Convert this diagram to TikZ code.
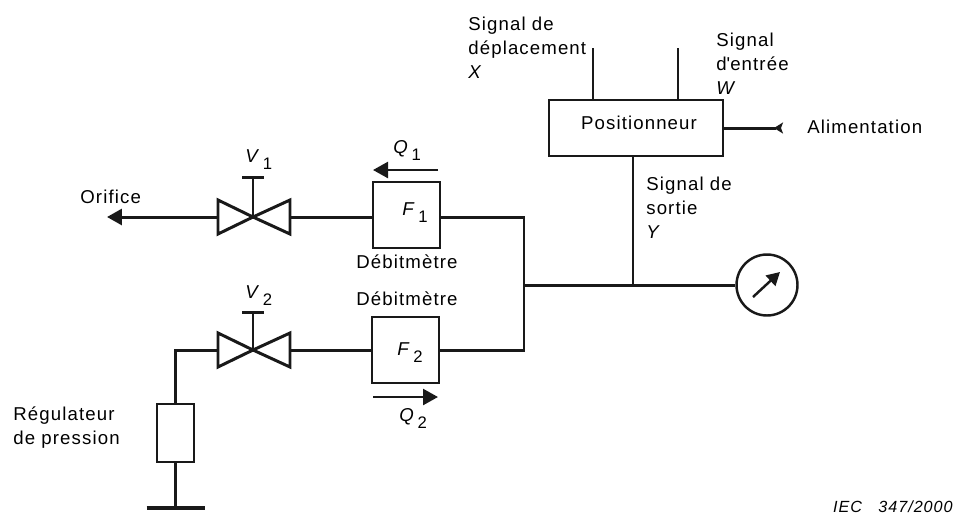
\documentclass[tikz,border=0pt]{standalone}
\usepackage{fontspec}
\setmainfont[LetterSpace=6]{Liberation Sans}
\usetikzlibrary{arrows.meta, positioning, calc}
\newcommand{\idx}[2]{\textit{#1}\hspace{1.5pt}\raisebox{-4pt}{\fontsize{9.5}{11}\selectfont #2}}

\begin{document}
\begin{tikzpicture}
  [
    x=0.02cm, y=-0.02cm,
    every node/.style={font=\fontsize{10.6}{13.6}\selectfont},
    Pipe/.style={line width=1.7pt, black!90},
    Box/.style={rectangle, draw=black!90, line width=1.6pt, inner sep=0pt},
    Flow/.style={line width=1.4pt, black!90, -{Triangle[length=3mm, width=3.2mm]}},
    Label/.style={align=left, anchor=west, inner sep=0pt},
    Mark/.style={anchor=base west, inner sep=0pt},
    Valve/.style={draw=black!90, line width=1.7pt, line join=miter}
  ]
  \useasboundingbox (0, 0) rectangle (954, 515);
  % Nodes
  \node[Box, minimum width=3.48cm, minimum height=1.12cm] (pos) at(636, 128) {};
  \node (postext) at(639, 123) {Positionneur};
  \node[Box, minimum width=1.34cm, minimum height=1.32cm] (f1) at(406.5, 215) {};
  \node[Box, minimum width=1.34cm, minimum height=1.32cm] (f2) at(405.5, 350) {};
  \node[Box, minimum width=0.74cm, minimum height=1.16cm] (reg) at(175.5, 433) {};
  \node[circle, draw=black!90, line width=1.4pt, minimum size=1.22cm, inner sep=0pt] (gauge) at(767, 285) {};
  % Points
  \coordinate (v1) at(253, 217);
  \coordinate (v2) at(253, 350);
  \coordinate (v1l) at(218, 217);
  \coordinate (v1r) at(290, 217);
  \coordinate (v2l) at(218, 350);
  \coordinate (v2r) at(290, 350);
  \coordinate (v1top) at(253, 177);
  \coordinate (v2top) at(253, 312);
  \coordinate (orifice) at(107, 217);
  \coordinate (bend) at(175.5, 350);
  \coordinate (ground) at(175.5, 508);
  \coordinate (sigx) at(593, 48);
  \coordinate (sigw) at(678, 48);
  \coordinate (supply) at(783, 128);
  \coordinate (bustop) at(524, 217);
  \coordinate (busbot) at(524, 350);
  \coordinate (busmid) at(524, 285);
  \coordinate (tee) at(633, 285);
  % Valves
  \foreach \v in {v1, v2}
  {
    \draw[Valve] (\v) -- ($(\v)+(-35, -17)$) -- ($(\v)+(-35, 17)$) -- cycle;
    \draw[Valve] (\v) -- ($(\v)+(37, -17)$) -- ($(\v)+(37, 17)$) -- cycle;
  }
  \draw[Pipe] (v1) -- (v1top);
  \draw[Pipe] (v2) -- (v2top);
  \draw[Pipe] ($(v1top)+(-11, 0)$) -- ($(v1top)+(11, 0)$);
  \draw[Pipe] ($(v2top)+(-11, 0)$) -- ($(v2top)+(11, 0)$);
  % Lines
  \draw[Pipe, -{Triangle[length=3mm, width=3.2mm]}] (v1l) -- (orifice);
  \draw[Pipe] (v1r) -- (f1.west |- v1r);
  \draw[Pipe] (f1.east |- bustop) -- (bustop) -- (busbot) -- (f2.east |- busbot);
  \draw[Pipe] (v2r) -- (f2.west);
  \draw[Pipe] (v2l) -- (bend) -- (reg.north);
  \draw[Pipe] (reg.south) -- (ground);
  \draw[Pipe, line width=1.9pt] ($(ground)+(-29, 0)$) -- ($(ground)+(29, 0)$);
  \draw[Pipe] (busmid) -- (gauge.west);
  \draw[Pipe] (pos.south -| tee) -- (tee);
  \draw[Pipe] (sigx) -- (sigx |- pos.north);
  \draw[Pipe] (sigw) -- (sigw |- pos.north);
  \draw[Pipe, -{Stealth[reversed, length=1.8mm, width=2.2mm, inset=0.4mm]}] (pos.east |- supply) -- (supply);
  \draw[Flow] (438, 170) -- (373, 170);
  \draw[Flow] (373, 397) -- (438, 397);
  \draw[Flow, -{Triangle[length=2.6mm, width=2.8mm]}] ($(gauge)+(-14, 12)$) -- ($(gauge)+(13, -13)$);
  % Labels
  \node[Mark] (lf1) at(402, 215) {\idx{F}{1}};
  \node[Mark] (lf2) at(397, 355) {\idx{F}{2}};
  \node[Mark] (lv1) at(245, 162) {\idx{V}{1}};
  \node[Mark] (lv2) at(245, 298) {\idx{V}{2}};
  \node[Mark] (lq1) at(393, 153) {\idx{Q}{1}};
  \node[Mark] (lq2) at(399, 421) {\idx{Q}{2}};
  \node[Label] (lorifice) at(80, 197) {Orifice};
  \node[Label] (ld1) at(356, 262) {Débitmètre};
  \node[Label] (ld2) at(356, 299) {Débitmètre};
  \node[Label] (lreg) at(13, 428) {Régulateur\\de pression};
  \node[Label] (lx) at(468, 48) {Signal de\\déplacement\\\textit{X}};
  \node[Label] (lw) at(716, 64) {Signal\\d\textquotesingle entrée\\\textit{W}};
  \node[Label] (ly) at(646, 207.5) {Signal de\\sortie\\\textit{Y}};
  \node[Label] (lsupply) at(807, 127) {Alimentation};
  \node[Label, anchor=east, font=\fontsize{9.2}{11}\selectfont\itshape] (liec) at(953, 507) {IEC\ \ \ 347/2000};
\end{tikzpicture}
\end{document}
